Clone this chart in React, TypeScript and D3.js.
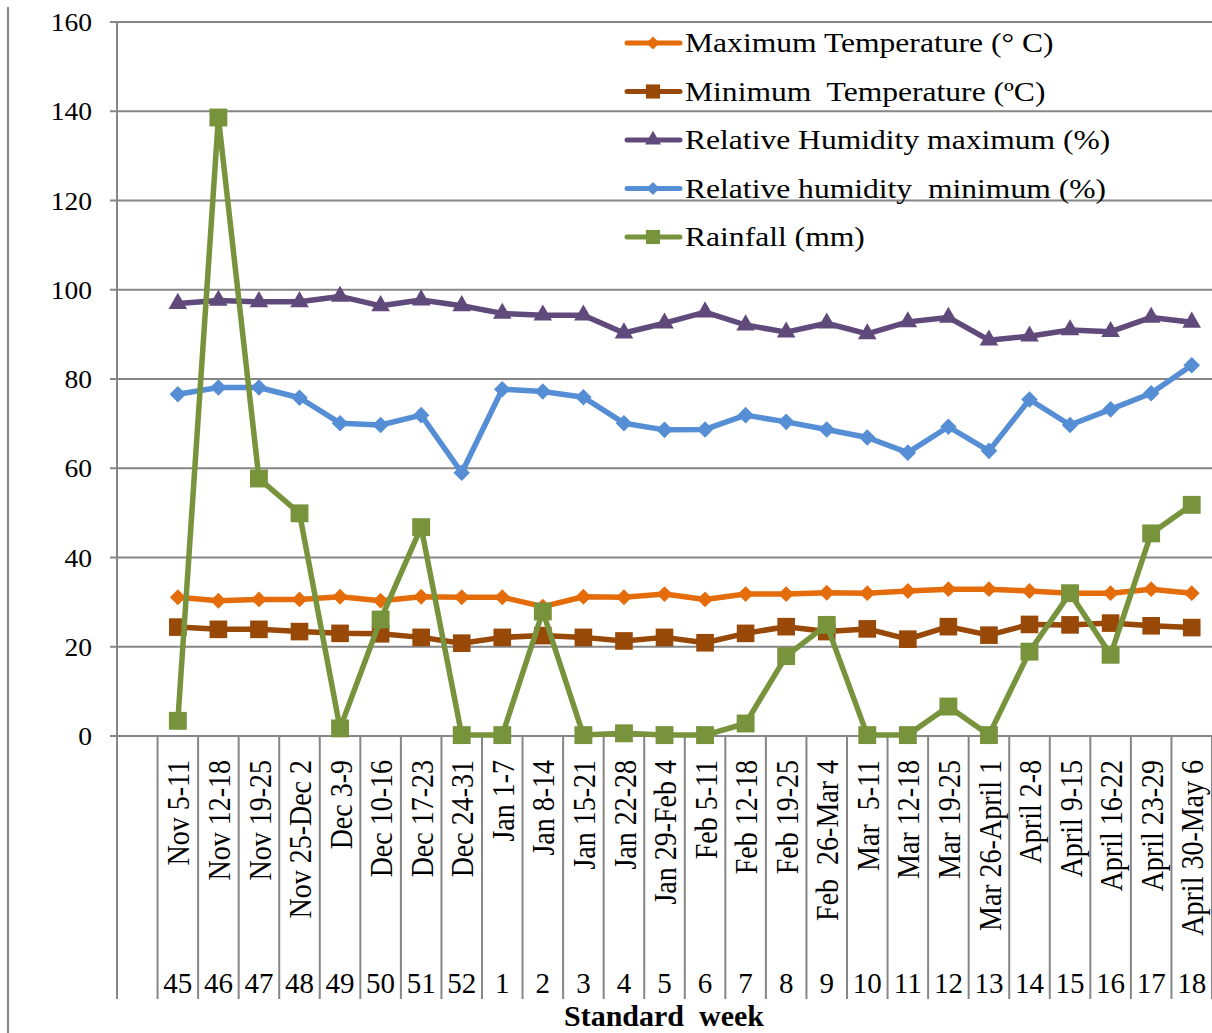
import React from 'react';
import * as d3 from 'd3';

const weekDates = [
  'Nov 5-11', 'Nov 12-18', 'Nov 19-25', 'Nov 25-Dec 2', 'Dec 3-9', 'Dec 10-16', 'Dec 17-23',
  'Dec 24-31', 'Jan 1-7', 'Jan 8-14', 'Jan 15-21', 'Jan 22-28', 'Jan 29-Feb 4', 'Feb 5-11',
  'Feb 12-18', 'Feb 19-25', 'Feb  26-Mar 4', 'Mar  5-11', 'Mar 12-18', 'Mar 19-25',
  'Mar 26-April 1', 'April 2-8', 'April 9-15', 'April 16-22', 'April 23-29', 'April 30-May 6',
];
const weekNumbers = [
  '45', '46', '47', '48', '49', '50', '51', '52', '1', '2', '3', '4', '5', '6', '7', '8', '9',
  '10', '11', '12', '13', '14', '15', '16', '17', '18',
];
const maxTemp = [
  31.1, 30.3, 30.6, 30.6, 31.2, 30.3, 31.2, 31.1, 31.1, 29.0, 31.2, 31.1, 31.8, 30.6, 31.8,
  31.8, 32.1, 32.0, 32.5, 32.9, 32.9, 32.5, 32.0, 32.0, 32.9, 32.0,
];
const minTemp = [
  24.4, 23.9, 23.9, 23.4, 23.0, 22.9, 22.1, 20.8, 22.1, 22.5, 22.1, 21.3, 22.1, 20.9, 23.0,
  24.5, 23.4, 24.0, 21.7, 24.5, 22.6, 25.0, 24.9, 25.3, 24.7, 24.3,
];
const rhMax = [
  96.9, 97.6, 97.3, 97.3, 98.5, 96.4, 97.7, 96.4, 94.7, 94.3, 94.3, 90.3, 92.5, 95.0, 92.1,
  90.5, 92.5, 90.1, 92.8, 93.8, 88.7, 89.6, 91.0, 90.6, 93.8, 92.7,
];
const rhMin = [
  76.6, 78.1, 78.1, 75.8, 70.1, 69.7, 71.9, 59.0, 77.7, 77.2, 75.9, 70.1, 68.6, 68.7, 71.9,
  70.4, 68.7, 66.9, 63.5, 69.3, 63.9, 75.4, 69.7, 73.2, 76.8, 83.1,
];
const rainfall = [
  3.4, 138.6, 57.7, 49.9, 1.7, 26.1, 46.8, 0.2, 0.2, 27.9, 0.2, 0.6, 0.2, 0.2, 2.8, 17.9, 24.9,
  0.2, 0.2, 6.6, 0.2, 18.9, 32.0, 18.2, 45.4, 51.8,
];
const yTicks = [0, 20, 40, 60, 80, 100, 120, 140, 160];
const seriesNames = [
  'Maximum Temperature (° C)',
  'Minimum  Temperature (ºC)',
  'Relative Humidity maximum (%)',
  'Relative humidity  minimum (%)',
  'Rainfall (mm)',
];
const axisTitle = 'Standard  week';

const FONT = '"Liberation Serif", "Times New Roman", serif';
const GRID = '#868686';

export default function App() {
  const W = 1212;
  const H = 1033;
  const left = 117;
  const right = 1212;
  const top = 22;
  const bottom = 736;

  const x = d3
    .scaleBand<string>()
    .domain(['', ...weekNumbers])
    .range([left, right])
    .paddingInner(0)
    .paddingOuter(0);
  const y = d3.scaleLinear().domain([0, 160]).range([bottom, top]);
  const cx = (i: number) => (x(weekNumbers[i]) as number) + x.bandwidth() / 2;

  const series = [
    { name: seriesNames[0], values: maxTemp, color: '#E46C0A', type: d3.symbolDiamond2, size: 160, lsize: 110 },
    { name: seriesNames[1], values: minTemp, color: '#984807', type: d3.symbolSquare, size: 310, lsize: 200 },
    { name: seriesNames[2], values: rhMax, color: '#604A7B', type: d3.symbolTriangle, size: 150, lsize: 110 },
    { name: seriesNames[3], values: rhMin, color: '#558ED5', type: d3.symbolDiamond2, size: 175, lsize: 110 },
    { name: seriesNames[4], values: rainfall, color: '#77933C', type: d3.symbolSquare, size: 320, lsize: 200 },
  ];

  const line = d3
    .line<number>()
    .x((_, i) => cx(i))
    .y((d) => y(d));

  const boundaries = [...x.domain().map((d) => x(d) as number), right];

  return (
    <svg
      width={W}
      height={H}
      style={{ position: 'absolute', left: 0, top: 0, background: '#fff' }}
      fontFamily={FONT}
    >
      <rect x={0} y={0} width={W} height={H} fill="#fff" />
      {/* outer left border */}
      <line x1={8} x2={8} y1={7} y2={H} stroke={GRID} strokeWidth={2} />

      {/* gridlines */}
      {yTicks.map((t) => (
        <g key={t}>
          <line x1={left - 7} x2={right} y1={y(t)} y2={y(t)} stroke={GRID} strokeWidth={2} />
          <text
            transform={`translate(92,${y(t) + 9}) scale(1.1,1)`}
            textAnchor="end"
            fontSize={25}
            fill="#000"
          >
            {t}
          </text>
        </g>
      ))}

      {/* y axis line */}
      <line x1={left} x2={left} y1={top} y2={999} stroke={GRID} strokeWidth={2} />

      {/* category dividers */}
      {boundaries.slice(1).map((b, i) => (
        <line key={i} x1={b} x2={b} y1={bottom} y2={999} stroke={GRID} strokeWidth={2} />
      ))}

      {/* category labels */}
      {weekDates.map((d, i) => (
        <text
          key={d}
          transform={`translate(${cx(i) + 1},760) scale(1.15,1) rotate(-90)`}
          textAnchor="end"
          dy="0.33em"
          fontSize={28}
          fill="#000"
          style={{ whiteSpace: 'pre' }}
        >
          {d}
        </text>
      ))}
      {weekNumbers.map((w, i) => (
        <text key={w} x={cx(i)} y={993} textAnchor="middle" fontSize={29} fill="#000">
          {w}
        </text>
      ))}
      <text
        x={664}
        y={1026}
        textAnchor="middle"
        fontSize={30}
        fontWeight="bold"
        fill="#000"
        style={{ whiteSpace: 'pre' }}
      >
        {axisTitle}
      </text>

      {/* series */}
      {series.map((s) => (
        <g key={s.name}>
          <path
            d={line(s.values) as string}
            fill="none"
            stroke={s.color}
            strokeWidth={5.5}
            strokeLinejoin="round"
            strokeLinecap="round"
          />
          {s.values.map((v, i) => (
            <path
              key={i}
              transform={`translate(${cx(i)},${y(v)})`}
              d={d3.symbol().type(s.type).size(s.size)() as string}
              fill={s.color}
            />
          ))}
        </g>
      ))}

      {/* legend */}
      {series.map((s, i) => {
        const ly = 43 + i * 48.5;
        return (
          <g key={s.name}>
            <line x1={627} x2={680} y1={ly} y2={ly} stroke={s.color} strokeWidth={5} strokeLinecap="round" />
            <path
              transform={`translate(653,${ly})`}
              d={d3.symbol().type(s.type).size(s.lsize)() as string}
              fill={s.color}
            />
            <text
              transform={`translate(685,${ly + 9}) scale(1.17,1)`}
              fontSize={27}
              fill="#000"
              style={{ whiteSpace: 'pre' }}
            >
              {s.name}
            </text>
          </g>
        );
      })}
    </svg>
  );
}
